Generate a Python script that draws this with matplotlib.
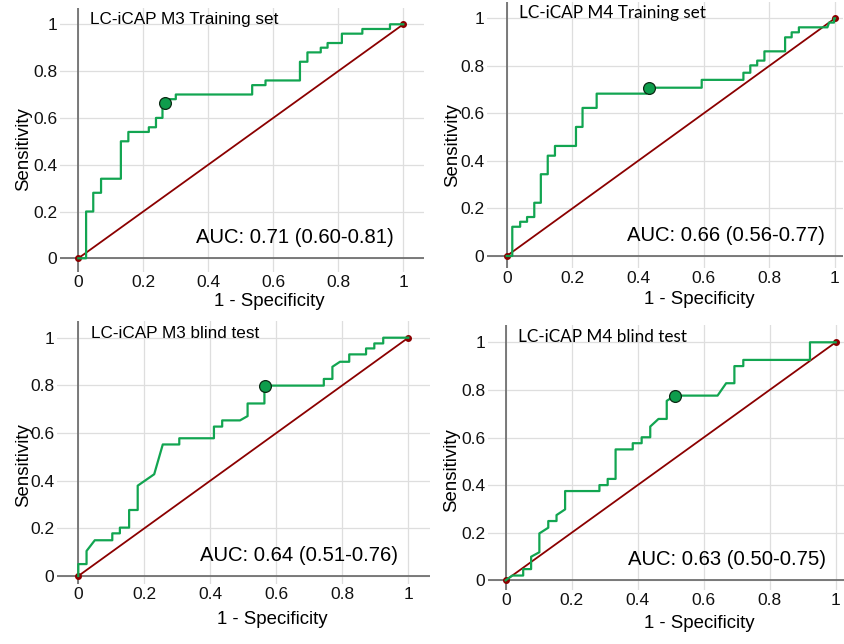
import matplotlib
matplotlib.use('Agg')
import matplotlib.pyplot as plt

plt.rcParams['font.family'] = ['Liberation Sans', 'DejaVu Sans']

# ROC curves: (1 - specificity, sensitivity)

fpr_m3_train = [0, 0.024, 0.024, 0.046, 0.046, 0.070, 0.070, 0.131, 0.131, 0.154, 0.154,
                0.217, 0.217, 0.239, 0.239, 0.259, 0.259, 0.268, 0.28, 0.30, 0.30,
                0.535, 0.535, 0.576, 0.576, 0.682, 0.682, 0.705, 0.705, 0.746, 0.746,
                0.767, 0.767, 0.811, 0.811, 0.874, 0.874, 0.959, 0.959, 1.0]
tpr_m3_train = [0, 0, 0.20, 0.20, 0.28, 0.28, 0.34, 0.34, 0.50, 0.50, 0.54,
                0.54, 0.56, 0.56, 0.60, 0.60, 0.645, 0.664, 0.68, 0.68, 0.70,
                0.70, 0.74, 0.74, 0.76, 0.76, 0.84, 0.84, 0.88, 0.88, 0.90,
                0.90, 0.92, 0.92, 0.96, 0.96, 0.98, 0.98, 1.0, 1.0]

fpr_m4_train = [0, 0.017, 0.017, 0.041, 0.041, 0.062, 0.062, 0.084, 0.084, 0.104, 0.104,
                0.125, 0.125, 0.147, 0.147, 0.211, 0.211, 0.231, 0.231, 0.274, 0.274,
                0.426, 0.432, 0.594, 0.594, 0.721, 0.721, 0.742, 0.742, 0.763, 0.763,
                0.785, 0.785, 0.848, 0.848, 0.868, 0.868, 0.890, 0.890, 0.977, 0.982,
                0.997, 0.997, 1.0]
tpr_m4_train = [0, 0, 0.123, 0.123, 0.144, 0.144, 0.164, 0.164, 0.224, 0.224, 0.344,
                0.344, 0.422, 0.422, 0.463, 0.463, 0.543, 0.543, 0.623, 0.623, 0.683,
                0.683, 0.708, 0.708, 0.741, 0.741, 0.771, 0.771, 0.802, 0.802, 0.822,
                0.822, 0.861, 0.861, 0.920, 0.920, 0.941, 0.941, 0.962, 0.962, 0.982,
                0.982, 1.0, 1.0]

fpr_m3_blind = [0, 0, 0.025, 0.025, 0.05, 0.103, 0.103, 0.126, 0.126, 0.154, 0.154,
                0.18, 0.18, 0.23, 0.256, 0.306, 0.306, 0.411, 0.411, 0.436, 0.436,
                0.49, 0.513, 0.513, 0.564, 0.564, 0.744, 0.744, 0.77, 0.77, 0.793,
                0.821, 0.821, 0.872, 0.872, 0.897, 0.897, 0.924, 0.924, 1.0]
tpr_m3_blind = [0, 0.05, 0.05, 0.105, 0.15, 0.15, 0.179, 0.179, 0.203, 0.203, 0.277,
                0.277, 0.379, 0.427, 0.552, 0.552, 0.578, 0.578, 0.627, 0.627, 0.653,
                0.653, 0.671, 0.724, 0.724, 0.799, 0.799, 0.827, 0.827, 0.878, 0.899,
                0.899, 0.93, 0.93, 0.955, 0.955, 0.976, 0.976, 1.0, 1.0]

fpr_m4_blind = [0, 0.02, 0.053, 0.053, 0.077, 0.077, 0.102, 0.102, 0.129, 0.129, 0.154,
                0.154, 0.18, 0.18, 0.284, 0.284, 0.309, 0.309, 0.333, 0.333, 0.385,
                0.385, 0.412, 0.412, 0.438, 0.438, 0.463, 0.488, 0.488, 0.513, 0.642,
                0.668, 0.693, 0.693, 0.72, 0.72, 0.922, 0.922, 1.0]
tpr_m4_blind = [0, 0.02, 0.02, 0.047, 0.047, 0.099, 0.118, 0.197, 0.221, 0.249, 0.249,
                0.274, 0.298, 0.375, 0.375, 0.40, 0.40, 0.426, 0.426, 0.55, 0.55,
                0.576, 0.576, 0.601, 0.601, 0.646, 0.678, 0.678, 0.754, 0.776, 0.776,
                0.828, 0.828, 0.90, 0.90, 0.926, 0.926, 1.0, 1.0]

# optimal cut-off points
cut_m3_train = (0.268, 0.664)
cut_m4_train = (0.432, 0.708)
cut_m3_blind = (0.566, 0.799)
cut_m4_blind = (0.513, 0.776)

titles = ['LC-iCAP M3 Training set', 'LC-iCAP M4 Training set',
          'LC-iCAP M3 blind test', 'LC-iCAP M4 blind test']
auc_labels = ['AUC: 0.71 (0.60-0.81)', 'AUC: 0.66 (0.56-0.77)',
              'AUC: 0.64 (0.51-0.76)', 'AUC: 0.63 (0.50-0.75)']
ticks = [0, 0.2, 0.4, 0.6, 0.8, 1]
tick_labels = ['0', '0.2', '0.4', '0.6', '0.8', '1']

curves = [(fpr_m3_train, tpr_m3_train, cut_m3_train),
          (fpr_m4_train, tpr_m4_train, cut_m4_train),
          (fpr_m3_blind, tpr_m3_blind, cut_m3_blind),
          (fpr_m4_blind, tpr_m4_blind, cut_m4_blind)]

# panel layout in pixels: box (left, top, right, bottom), origin, point (1, 1)
layout = [((60, 8, 424, 272), (78.3, 258.3), (403.3, 24.3)),
          ((487, 2, 843, 268), (506.7, 256.0), (835.0, 18.3)),
          ((57, 321, 430, 584), (78.3, 576.0), (408.3, 337.7)),
          ((488, 325, 845, 590), (505.7, 580.3), (835.7, 342.3))]
title_fonts = ['Liberation Sans', 'Lato', 'Liberation Sans', 'Lato']

W, H = 845, 644
fig = plt.figure(figsize=(W / 100, H / 100), dpi=100)

green = '#12a551'
red = '#8b0000'

for i in range(4):
    (l, t, r, b), (ox, oy), (x1, y1) = layout[i]
    ax = fig.add_axes([l / W, 1 - b / H, (r - l) / W, (b - t) / H])
    sx = x1 - ox
    sy = oy - y1
    ax.set_xlim((l - ox) / sx, (r - ox) / sx)
    ax.set_ylim((oy - b) / sy, (oy - t) / sy)

    for s in ax.spines.values():
        s.set_visible(False)
    ax.set_xticks(ticks)
    ax.set_xticklabels(tick_labels)
    ax.set_yticks(ticks)
    ax.set_yticklabels(tick_labels)
    ax.tick_params(length=0, labelsize=12.5, pad=2, colors='#111111')
    ax.grid(True, color='#dedede', lw=0.9)
    ax.set_axisbelow(True)
    ax.axhline(0, color='#666666', lw=1.2, zorder=1)
    ax.axvline(0, color='#666666', lw=1.2, zorder=1)

    fpr, tpr, cut = curves[i]
    ax.plot([0, 1], [0, 1], color=red, lw=1.3, marker='o', ms=4, zorder=3)
    ax.plot(fpr, tpr, color=green, lw=1.6, zorder=4)
    ax.plot(cut[0], cut[1], 'o', color='#0e9d4c', mec='#0b2a14', mew=0.9, ms=8.5, zorder=5)

    ax.text(0.037, 1.0, titles[i], ha='left', va='baseline', fontsize=12.3,
            family=[title_fonts[i], 'DejaVu Sans'])
    ax.text(0.97, 0.065, auc_labels[i], ha='right', va='baseline', fontsize=14.6)

    ax.set_xlabel('1 - Specificity', fontsize=13.4)
    ax.set_ylabel('Sensitivity', fontsize=13.4)
    ax.xaxis.set_label_coords(0.587, (b - (oy + 35)) / (b - t), transform=ax.get_xaxis_transform())
    ax.yaxis.set_label_coords((ox - 46 - l) / (r - l), 0.465, transform=ax.get_yaxis_transform())

fig.savefig('out.png', dpi=100)
